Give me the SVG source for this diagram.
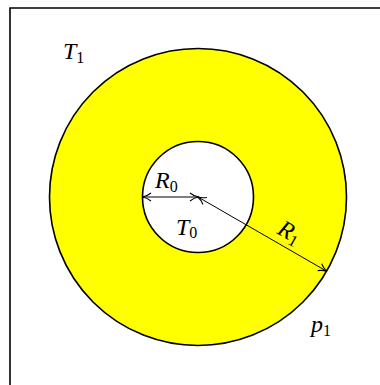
<svg xmlns="http://www.w3.org/2000/svg" width="380" height="385" viewBox="0 0 380 385">
<defs>
<style>
.lbl{font-family:"Liberation Serif","DejaVu Serif",serif;font-size:24px;fill:#000}
.v{font-style:italic}
.s{font-size:16px}
.ln{stroke:#000;stroke-width:1;fill:none}
</style>
<marker id="ah" viewBox="0 0 10 10" refX="9" refY="5" markerWidth="10" markerHeight="10" markerUnits="userSpaceOnUse" orient="auto-start-reverse">
<path d="M1,1 Q5,4.2 9.5,5 Q5,5.8 1,9" fill="none" stroke="#000" stroke-width="1.1"/>
</marker>
</defs>
<rect width="380" height="385" fill="#fff"/>
<g id="frame"><path d="M10,385 V8 H380" fill="none" stroke="#000" stroke-width="1.6"/></g>
<g id="outer"><circle cx="198" cy="197" r="148.5" fill="#ffff00" stroke="#000" stroke-width="1.6"/></g>
<g id="inner"><circle cx="198" cy="197" r="55.5" fill="#fff" stroke="#000" stroke-width="1.6"/></g>
<g id="connectors">
<line class="ln" x1="143" y1="197" x2="198" y2="197" marker-start="url(#ah)" marker-end="url(#ah)"/>
<line class="ln" x1="198" y1="197" x2="326.6" y2="271.2" marker-start="url(#ah)" marker-end="url(#ah)"/>
</g>
<g id="labels">
<text class="lbl" x="63" y="59"><tspan class="v">T</tspan><tspan class="s" dy="4">1</tspan></text>
<text class="lbl" x="155" y="188"><tspan class="v">R</tspan><tspan class="s" dy="3.5">0</tspan></text>
<text class="lbl" x="176" y="235"><tspan class="v">T</tspan><tspan class="s" dy="3">0</tspan></text>
<text class="lbl" x="311" y="332"><tspan class="v">p</tspan><tspan class="s" dy="4">1</tspan></text>
<text class="lbl" x="278" y="240" transform="rotate(30 290 233)"><tspan class="v">R</tspan><tspan class="s" dy="3.5">1</tspan></text>
</g>
</svg>
